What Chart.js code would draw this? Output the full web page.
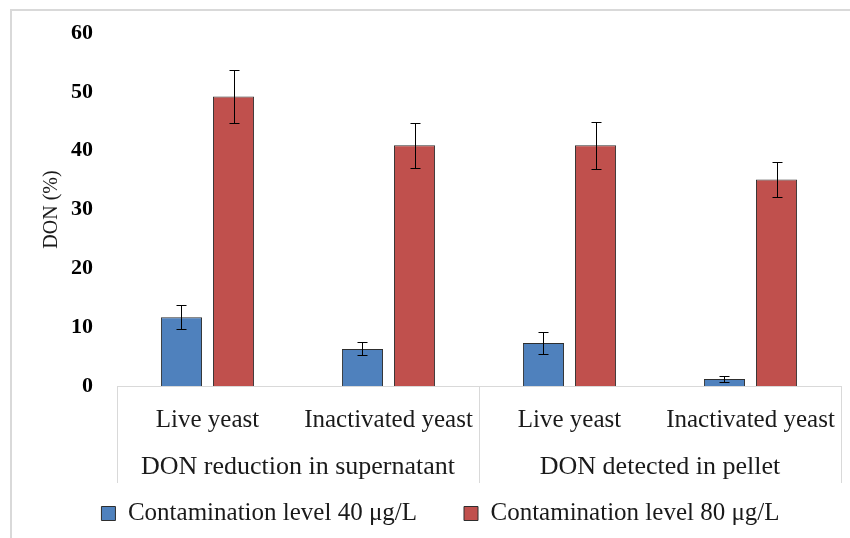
<!DOCTYPE html>
<html>
<head>
<meta charset="utf-8">
<script src="https://cdn.jsdelivr.net/npm/chart.js@4.4.1/dist/chart.umd.min.js"></script>
<style>
  html, body { margin: 0; padding: 0; background: #fff; }
  canvas { display: block; }
</style>
</head>
<body>
<canvas id="donChart" width="850" height="538"></canvas>
<script>
const categories = ['Live yeast', 'Inactivated yeast', 'Live yeast', 'Inactivated yeast'];
const groups = ['DON reduction in supernatant', 'DON detected in pellet'];
const level40 = [11.7, 6.3, 7.3, 1.2];
const err40 = [2.0, 1.1, 1.8, 0.5];
const level80 = [49.2, 40.9, 40.9, 35.1];
const err80 = [4.5, 3.8, 4.0, 2.9];
const yTicks = [0, 10, 20, 30, 40, 50, 60];

const serif = "'Liberation Serif', 'Times New Roman', serif";
const lineGray = '#d9d9d9';

// frame, category box and group labels
const framePlugin = {
    id: 'frame',
    beforeDraw(chart) {
        const ctx = chart.ctx;
        ctx.save();
        ctx.strokeStyle = lineGray;
        ctx.lineWidth = 2;
        ctx.beginPath();
        ctx.moveTo(11, chart.height + 5);
        ctx.lineTo(11, 10);
        ctx.lineTo(chart.width + 5, 10);
        ctx.stroke();
        ctx.restore();
    },
    afterDraw(chart) {
        const ctx = chart.ctx;
        const x = chart.scales.x;
        const area = chart.chartArea;
        const boxBottom = 483;
        ctx.save();
        ctx.strokeStyle = lineGray;
        ctx.lineWidth = 1;
        ctx.beginPath();
        ctx.moveTo(area.left, area.bottom + 0.5);
        ctx.lineTo(area.right, area.bottom + 0.5);
        [-0.5, 1.5, 3.5].forEach(v => {
            const px = Math.round(x.getPixelForValue(v)) + 0.5;
            ctx.moveTo(px, area.bottom);
            ctx.lineTo(px, boxBottom);
        });
        ctx.stroke();

        ctx.fillStyle = '#1a1a1a';
        ctx.font = '26px ' + serif;
        ctx.textAlign = 'center';
        ctx.textBaseline = 'alphabetic';
        groups.forEach((g, i) => {
            ctx.fillText(g, x.getPixelForValue(i * 2 + 0.5), 474);
        });
        ctx.restore();
    }
};

// error bars drawn from the dataset values
const errorBarPlugin = {
    id: 'errorBars',
    afterDatasetsDraw(chart) {
        const ctx = chart.ctx;
        const y = chart.scales.y;
        const errs = [err40, err80];
        ctx.save();
        ctx.strokeStyle = '#000';
        ctx.lineWidth = 1;
        chart.data.datasets.forEach((ds, i) => {
            const meta = chart.getDatasetMeta(i);
            meta.data.forEach((bar, j) => {
                const v = ds.data[j];
                const e = errs[i][j];
                const cx = Math.round(bar.x) + 0.5;
                const top = Math.round(y.getPixelForValue(v + e)) + 0.5;
                const bot = Math.round(y.getPixelForValue(v - e)) + 0.5;
                ctx.beginPath();
                ctx.moveTo(cx, top);
                ctx.lineTo(cx, bot);
                ctx.moveTo(cx - 5, top);
                ctx.lineTo(cx + 5, top);
                ctx.moveTo(cx - 5, bot);
                ctx.lineTo(cx + 5, bot);
                ctx.stroke();
            });
        });
        ctx.restore();
    }
};

new Chart(document.getElementById('donChart'), {
    type: 'bar',
    data: {
        labels: categories,
        datasets: [{
            label: 'Contamination level 40 \u03bcg/L',
            data: level40,
            backgroundColor: '#4f81bd',
            borderColor: '#2e2e2e',
            borderWidth: 1
        }, {
            label: 'Contamination level 80 \u03bcg/L',
            data: level80,
            backgroundColor: '#c0504d',
            borderColor: '#2e2e2e',
            borderWidth: 1
        }]
    },
    options: {
        responsive: false,
        animation: false,
        devicePixelRatio: 1,
        categoryPercentage: 0.575,
        barPercentage: 0.79,
        layout: {
            padding: { left: 40, right: 9, top: 33, bottom: 2 }
        },
        plugins: {
            legend: {
                position: 'bottom',
                labels: {
                    boxWidth: 14,
                    boxHeight: 14,
                    padding: 47,
                    color: '#1a1a1a',
                    font: { family: serif, size: 25 }
                }
            },
            tooltip: { enabled: false }
        },
        scales: {
            x: {
                grid: { display: false },
                border: { display: false },
                ticks: {
                    color: '#1a1a1a',
                    padding: 11,
                    maxRotation: 0,
                    autoSkip: false,
                    font: { family: serif, size: 25 }
                },
                afterFit: s => {
                    s.height = 68;
                    s.paddingLeft = 0;
                    s.paddingRight = 0;
                }
            },
            y: {
                min: 0,
                max: 60,
                afterBuildTicks: s => { s.ticks = yTicks.map(v => ({ value: v })); },
                grid: { display: false },
                border: { display: false },
                ticks: {
                    color: '#000',
                    padding: 16,
                    font: { family: serif, size: 22, weight: 'bold' }
                },
                title: {
                    display: true,
                    text: 'DON (%)',
                    color: '#1a1a1a',
                    padding: { top: 0, bottom: 0 },
                    font: { family: serif, size: 20, lineHeight: 1.2 }
                },
                afterFit: s => {
                    s.width = 77;
                    s.paddingTop = 0;
                    s.paddingBottom = 0;
                }
            }
        }
    },
    plugins: [framePlugin, errorBarPlugin]
});
</script>
</body>
</html>
